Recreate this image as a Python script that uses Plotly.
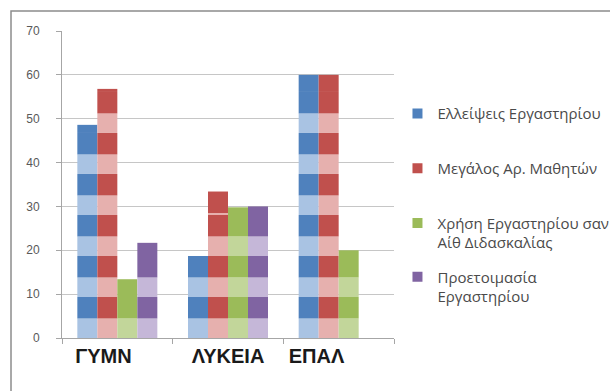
import math
import plotly.graph_objects as go

# Categories (school types) and survey values per problem area
CATEGORIES = ["ΓΥΜΝ", "ΛΥΚΕΙΑ", "ΕΠΑΛ"]
CATEGORY_LABELS = ["ΓΥΜΝ\u00a0\u00a0\u00a0\u00a0\u00a0", "ΛΥΚΕΙΑ", "ΕΠΑΛ\u00a0\u00a0\u00a0\u00a0\u00a0\u00a0\u00a0\u00a0"]

SERIES_NAMES = [
    "Ελλείψεις Εργαστηρίου",
    "Μεγάλος Αρ. Μαθητών",
    "Χρήση Εργαστηρίου σαν<br>Αίθ Διδασκαλίας",
    "Προετοιμασία<br>Εργαστηρίου",
]
ELLEIPSEIS = [48.6, 18.7, 60]
MEGALOS = [56.8, 33.4, 60]
XRISI = [13.4, 29.8, 20]
PROETOIMASIA = [21.7, 30, None]
SERIES_VALUES = [ELLEIPSEIS, MEGALOS, XRISI, PROETOIMASIA]

# (dark, light) tones of the stacked picture fill of each series
DARK = ["#4F81BD", "#C0504D", "#9BBB59", "#8064A2"]
LIGHT = ["#A9C3E3", "#E6B0AE", "#C2D69A", "#C5B7D8"]

# stacked picture fill: one tile = light lower part + dark upper part
TILE = 9.35
TILE_LIGHT = 4.45


def tile_segments(v):
    """Split a bar of height v into (start, end, is_dark) bands."""
    if v is None:
        return []
    segs = []
    n_full = int(math.floor(v / TILE))
    for k in range(n_full):
        b = k * TILE
        segs.append((b, b + TILE_LIGHT, False))
        segs.append((b + TILE_LIGHT, b + TILE, True))
    top = n_full * TILE
    if v - top > 1e-9:
        # last tile is aligned to the bar top and clipped by the tiles below
        split = v - TILE + TILE_LIGHT
        if split > top:
            segs.append((top, split, False))
            segs.append((split, v, True))
        else:
            segs.append((top, v, True))
    return segs


fig = go.Figure()

for si, (name, vals) in enumerate(zip(SERIES_NAMES, SERIES_VALUES)):
    per_cat = [tile_segments(v) for v in vals]
    n_seg = max(len(s) for s in per_cat)
    for j in range(n_seg):
        base, length, colors = [], [], []
        for segs in per_cat:
            if j < len(segs):
                a, b, dark = segs[j]
                base.append(a)
                length.append(b - a)
                colors.append(DARK[si] if dark else LIGHT[si])
            else:
                base.append(None)
                length.append(None)
                colors.append(LIGHT[si])
        fig.add_trace(go.Bar(
            x=CATEGORIES, y=length, base=base,
            offsetgroup=str(si),
            marker=dict(color=colors, line=dict(width=0)),
            showlegend=False, hoverinfo="skip",
        ))
    # legend entry of the series, each in its own legend box
    fig.add_trace(go.Scatter(
        x=[None], y=[None], mode="markers", name=name,
        marker=dict(symbol="square", size=10, color=DARK[si]),
        legend="legend" if si == 0 else f"legend{si + 1}",
    ))

legend_tops = [0.751, 0.611, 0.471, 0.334]
legend_style = dict(
    xref="container", yref="container", x=0.6516, xanchor="left", yanchor="top",
    font=dict(family="Open Sans", size=15, color="#4a4a4a"),
    bgcolor="rgba(0,0,0,0)", borderwidth=0, valign="top",
)
legend_layout = {}
for i, yt in enumerate(legend_tops):
    key = "legend" if i == 0 else f"legend{i + 1}"
    legend_layout[key] = dict(legend_style, y=yt)

fig.update_layout(
    width=610, height=391,
    margin=dict(l=62, r=216, t=31, b=53, autoexpand=False),
    paper_bgcolor="white", plot_bgcolor="white",
    barmode="group", bargap=0.277, bargroupgap=0,
    showlegend=True,
    **legend_layout,
    xaxis=dict(
        tickmode="array", tickvals=CATEGORIES, ticktext=CATEGORY_LABELS,
        tickson="boundaries", ticks="outside", ticklen=5, tickcolor="#a6a6a6",
        tickangle=0, automargin=False,
        showline=True, linecolor="#a6a6a6", linewidth=1,
        tickfont=dict(family="Liberation Sans", size=20, color="#1a1a1a", weight=700),
        showgrid=False,
    ),
    yaxis=dict(
        range=[0, 70], dtick=10, tick0=0, automargin=False,
        showgrid=True, gridcolor="#c6c6c6", gridwidth=1,
        showline=True, linecolor="#a6a6a6", linewidth=1,
        ticks="outside", ticklen=5, tickcolor="#a6a6a6",
        tickfont=dict(family="Liberation Sans", size=12, color="#595959"),
        ticklabelstandoff=14, zeroline=False,
    ),
    shapes=[dict(
        type="path", xref="paper", yref="paper",
        path="M -0.1536,-0.2 L -0.1536,1.0651 L 1.66,1.0651",
        line=dict(color="#8c8c8c", width=1.5),
    )],
)

fig.write_html("out.html")
